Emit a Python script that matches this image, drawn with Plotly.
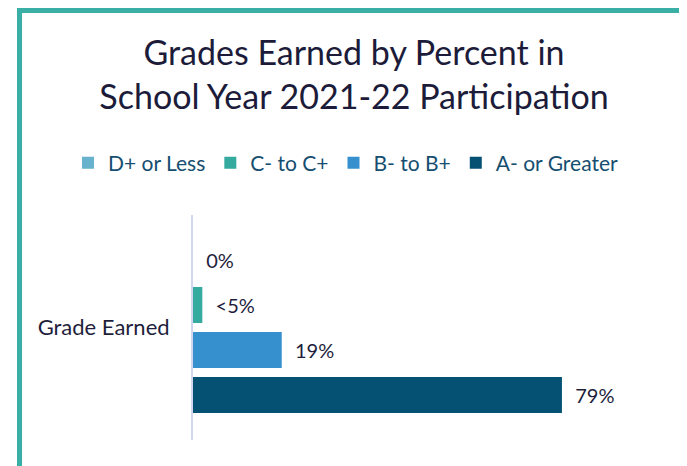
import plotly.graph_objects as go

# ---- data ----
categories = ["Grade Earned"]
series_names = ["D+ or Less", "C- to C+", "B- to B+", "A- or Greater"]
series_values = [0, 2, 19, 79]
series_labels = ["0%", "<5%", "19%", "79%"]
series_colors = ["#67B2CC", "#35ABA0", "#3590CD", "#045174"]

# the page puts the figure 8px in from the window's top-left corner
OFF = 8
W, H = 687 - OFF, 466 - OFF
ML, MR, MT, MB = 193 - OFF, 27, 215 - OFF, 26
PW = W - ML - MR
PH = H - MT - MB
FONT = "Lato"


def px_x(px):
    return (px - OFF - ML) / PW


def px_y(py):
    return (H - MB - (py - OFF)) / PH


fig = go.Figure()
for name, val, lab, col in zip(series_names, series_values, series_labels, series_colors):
    fig.add_trace(go.Bar(
        y=categories, x=[val], name=name, orientation="h",
        marker=dict(color=col, line=dict(width=0)),
        text=["\u00a0\u00a0" + lab], textposition="outside",
        textfont=dict(family=FONT, size=20, color="#1E1E3C"),
        constraintext="none", cliponaxis=False,
        hoverinfo="skip",
    ))

border = "#3AAFA5"
shapes = [
    dict(type="line", xref="paper", yref="paper", x0=px_x(17), x1=px_x(690),
         y0=px_y(10.5), y1=px_y(10.5), line=dict(color=border, width=5)),
    dict(type="line", xref="paper", yref="paper", x0=px_x(19.5), x1=px_x(19.5),
         y0=px_y(8), y1=px_y(470), line=dict(color=border, width=5)),
    dict(type="line", xref="paper", yref="paper", x0=px_x(685), x1=px_x(685),
         y0=px_y(10), y1=px_y(470), line=dict(color=border, width=2)),
]

fig.update_layout(
    width=W, height=H,
    margin=dict(l=ML, r=MR, t=MT, b=MB, autoexpand=False),
    paper_bgcolor="white", plot_bgcolor="white",
    barmode="group", bargap=0.2, bargroupgap=0.2,
    title=dict(
        text="Grades Earned by Percent in<br>School Year 2021-22 Participation",
        x=(354 - OFF) / W, xanchor="center", xref="container",
        y=1 - (65 - OFF) / H, yanchor="top", yref="container",
        font=dict(family=FONT, size=34, color="#1C1C3A"),
    ),
    legend=dict(
        orientation="h", xref="paper", x=px_x(68), xanchor="left",
        yref="paper", y=px_y(163), yanchor="middle",
        font=dict(family=FONT, size=21, color="#154E70"),
        traceorder="normal", itemclick=False,
    ),
    showlegend=True,
    shapes=shapes,
    xaxis=dict(range=[0, 100], visible=False, fixedrange=True, automargin=False),
    yaxis=dict(
        type="category", autorange="reversed", automargin=False,
        showline=True, linecolor="#D3D3F2", linewidth=2,
        showgrid=False, zeroline=False, ticks="",
        ticklabelstandoff=17,
        tickfont=dict(family=FONT, size=22, color="#1E1E3C"),
        fixedrange=True,
    ),
    font=dict(family=FONT),
)

fig.write_html("out.html")
